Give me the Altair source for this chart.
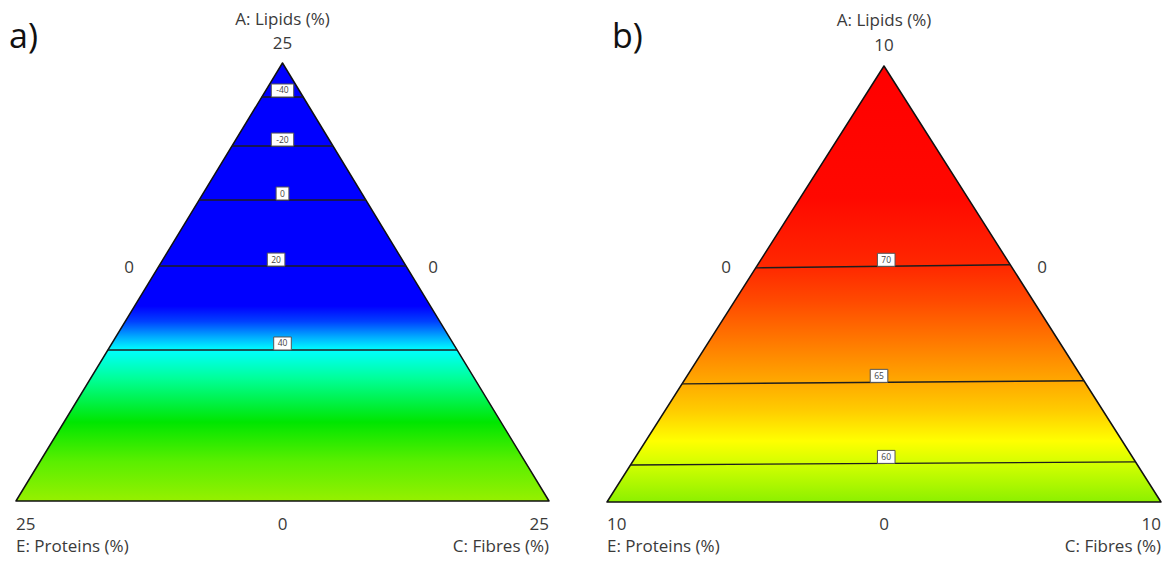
import altair as alt
import pandas as pd

# ---------------- data ----------------
axis_titles = ["A: Lipids (%)", "E: Proteins (%)", "C: Fibres (%)"]
panel_tags = ["a)", "b)"]

# Panel a: lipids range 0-25 %
a_max = 25
a_vertex_ticks = ["25", "25", "25"]        # A (top), E (left), C (right)
a_edge_ticks = ["0", "0", "0"]             # opposite-edge ticks: A (bottom), E (right edge), C (left edge)
a_levels = [-40, -20, 0, 20, 40]
a_lipid_left = [23.06, 20.26, 17.18, 13.41, 8.62]
a_lipid_right = [23.06, 20.26, 17.18, 13.41, 8.62]
a_label_shift = [0.0, 0.0, 0.0, -0.012, 0.0]

# Panel b: lipids range 0-10 %
b_max = 10
b_vertex_ticks = ["10", "10", "10"]
b_edge_ticks = ["0", "0", "0"]
b_levels = [70, 65, 60]
b_lipid_left = [5.37, 2.71, 0.85]
b_lipid_right = [5.44, 2.78, 0.92]
b_label_shift = [0.004, -0.009, 0.004]

# ---------------- styles ----------------
a_stops = [(0.0, "#0000ff"), (0.555, "#0000ff"), (0.59, "#0040ff"), (0.625, "#00aaff"),
           (0.655, "#00ffff"), (0.72, "#00ff99"), (0.82, "#00e600"), (0.91, "#5aef00"),
           (1.0, "#96f000")]
b_stops = [(0.0, "#ff0000"), (0.30, "#ff0800"), (0.46, "#ff2800"), (0.54, "#ff4a00"),
           (0.63, "#ff7800"), (0.727, "#ffaa00"), (0.79, "#ffcc00"), (0.86, "#ffff00"),
           (0.913, "#d2ff00"), (1.0, "#8cf000")]

FONT = "Open Sans"
TXT = "#3a3a3a"
H = 548
FS_TITLE = 17
FS_TICK = 17

geom_a = dict(x0=8, w=590, left=16, right=549, apex_y=63, base_y=501,
              title_y=20, top_tick_y=44, side_y=268, side_left=129, side_right=433,
              tick_y=525, label_y=547, tag_x=9, tag_y=38)
geom_b = dict(x0=598, w=564, left=607, right=1161, apex_y=66, base_y=502,
              title_y=21, top_tick_y=46, side_y=268, side_left=726, side_right=1042,
              tick_y=525, label_y=547, tag_x=612, tag_y=38)


def panel(amax, vticks, eticks, levels, lip_l, lip_r, shift, stops, g, tag):
    bw = g["right"] - g["left"]
    bh = g["base_y"] - g["apex_y"]
    ux = lambda px: (px - g["left"]) / bw
    uy = lambda py: (g["base_y"] - py) / bh
    xs = alt.Scale(domain=[ux(g["x0"]), ux(g["x0"] + g["w"])], nice=False, zero=False)
    ys = alt.Scale(domain=[uy(8 + H), uy(8)], nice=False, zero=False)

    def X(f):
        return alt.X(f, type="quantitative", scale=xs, axis=None)

    def Y(f):
        return alt.Y(f, type="quantitative", scale=ys, axis=None)

    # triangle (ternary simplex): A at top, E bottom-left, C bottom-right
    tri = pd.DataFrame({"y": [0.0, 1.0], "xl": [0.0, 0.5], "xr": [1.0, 0.5]})
    grad = alt.Gradient(gradient="linear",
                        stops=[alt.GradientStop(offset=o, color=c) for o, c in stops],
                        x1=0, x2=0, y1=0, y2=1)
    area = alt.Chart(tri).mark_area(orient="horizontal", fill=grad, stroke="#111111",
                                    strokeWidth=1.5, strokeJoin="round", opacity=1).encode(
        y=Y("y"), x=X("xl"), x2=alt.X2("xr"))

    # contour lines (constant response), positions from the lipid level at each edge
    rows = []
    for lev, al, ar, sh in zip(levels, lip_l, lip_r, shift):
        yl, yr = al / amax, ar / amax
        xl, xr = yl / 2, 1 - yr / 2
        lx = 0.5 + sh
        yline = yl + (yr - yl) * (lx - xl) / (xr - xl)
        txt = str(lev)
        half = (8 + 4.8 * len(txt)) / 2 / bw
        rows.append(dict(label=txt, yl=yl, yr=yr, xl=xl, xr=xr, lx=lx,
                         bx1=lx - half, bx2=lx + half,
                         by1=yline, by2=yline + 13 / bh, ty=yline + 6.5 / bh))
    cdf = pd.DataFrame(rows)
    rules = alt.Chart(cdf).mark_rule(color="#1e1e1e", strokeWidth=1.4).encode(
        x=X("xl"), x2=alt.X2("xr"), y=Y("yl"), y2=alt.Y2("yr"))
    boxes = alt.Chart(cdf).mark_rect(fill="white", stroke="#555555", strokeWidth=1).encode(
        x=X("bx1"), x2=alt.X2("bx2"), y=Y("by1"), y2=alt.Y2("by2"))
    btxt = alt.Chart(cdf).mark_text(fontSize=8.5, font=FONT, color="#444444",
                                    baseline="middle", align="center").encode(
        x=X("lx"), y=Y("ty"), text="label:N")

    # ternary tick labels and titles
    mid = 0.5
    center_df = pd.DataFrame({
        "t": [axis_titles[0], vticks[0], eticks[2], eticks[1], eticks[0]],
        "x": [mid, mid, ux(g["side_left"]), ux(g["side_right"]), mid],
        "y": [uy(g["title_y"]), uy(g["top_tick_y"]), uy(g["side_y"]), uy(g["side_y"]),
              uy(g["tick_y"])],
        "s": [FS_TITLE, FS_TICK, FS_TICK, FS_TICK, FS_TICK],
    })
    left_df = pd.DataFrame({"t": [vticks[1], axis_titles[1]], "x": [0.0, 0.0],
                            "y": [uy(g["tick_y"]), uy(g["label_y"])],
                            "s": [FS_TICK, FS_TITLE]})
    right_df = pd.DataFrame({"t": [vticks[2], axis_titles[2]], "x": [1.0, 1.0],
                             "y": [uy(g["tick_y"]), uy(g["label_y"])],
                             "s": [FS_TICK, FS_TITLE]})
    tag_df = pd.DataFrame({"t": [tag], "x": [ux(g["tag_x"])], "y": [uy(g["tag_y"])]})

    def texts(df, align):
        return alt.Chart(df).mark_text(font=FONT, color=TXT, align=align,
                                       baseline="middle").encode(
            x=X("x"), y=Y("y"), text="t:N",
            size=alt.Size("s:Q", scale=None, legend=None))

    tagt = alt.Chart(tag_df).mark_text(font=FONT, color="#111111", align="left",
                                       baseline="middle", fontSize=34).encode(
        x=X("x"), y=Y("y"), text="t:N")

    return alt.layer(area, rules, boxes, btxt,
                     texts(center_df, "center"), texts(left_df, "left"),
                     texts(right_df, "right"), tagt).properties(width=g["w"], height=H)


pa = panel(a_max, a_vertex_ticks, a_edge_ticks, a_levels, a_lipid_left, a_lipid_right,
           a_label_shift, a_stops, geom_a, panel_tags[0])
pb = panel(b_max, b_vertex_ticks, b_edge_ticks, b_levels, b_lipid_left, b_lipid_right,
           b_label_shift, b_stops, geom_b, panel_tags[1])

chart = alt.hconcat(pa, pb, spacing=0).resolve_scale(
    x="independent", y="independent").properties(padding=0, background="white"
).configure_view(stroke=None)

chart.save("out.html", embed_options={"renderer": "svg", "actions": False})
